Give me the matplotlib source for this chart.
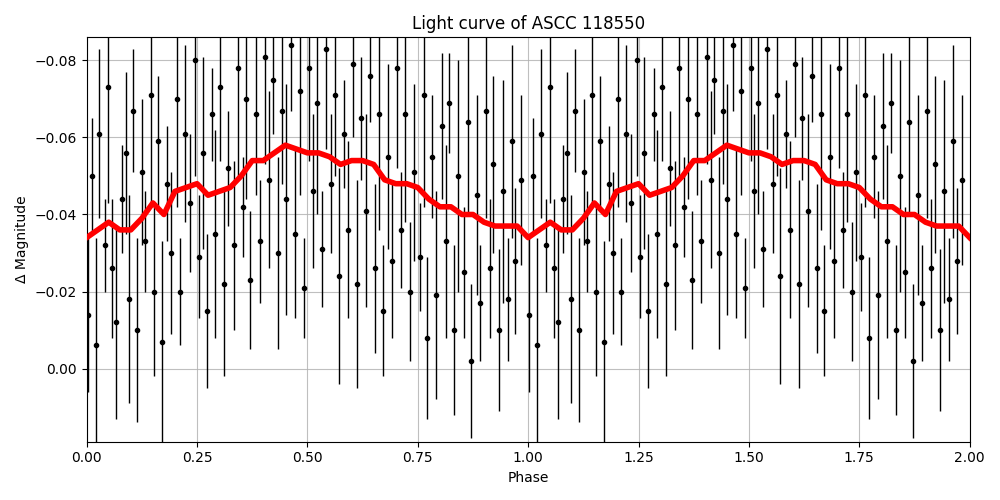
import numpy as np
import matplotlib
matplotlib.use("Agg")
import matplotlib.pyplot as plt

# folded photometry, phase 0-1
phase = [0.003, 0.012, 0.021, 0.029, 0.041, 0.049, 0.058, 0.067, 0.079, 0.088,
         0.097, 0.105, 0.114, 0.126, 0.133, 0.145, 0.153, 0.162, 0.171, 0.183,
         0.192, 0.204, 0.211, 0.222, 0.233, 0.246, 0.254, 0.263, 0.272, 0.284,
         0.291, 0.303, 0.312, 0.321, 0.333, 0.342, 0.354, 0.362, 0.371, 0.383,
         0.392, 0.404, 0.413, 0.421, 0.433, 0.442, 0.451, 0.463, 0.471, 0.483,
         0.492, 0.504, 0.512, 0.521, 0.533, 0.542, 0.554, 0.563, 0.571, 0.583,
         0.592, 0.604, 0.613, 0.621, 0.633, 0.642, 0.654, 0.663, 0.671, 0.683,
         0.692, 0.704, 0.713, 0.721, 0.733, 0.742, 0.754, 0.763, 0.771, 0.783,
         0.792, 0.804, 0.813, 0.821, 0.833, 0.842, 0.854, 0.863, 0.871, 0.883,
         0.892, 0.904, 0.913, 0.921, 0.933, 0.942, 0.954, 0.963, 0.971, 0.983]
mag = [-0.014, -0.050, -0.006, -0.061, -0.032, -0.073, -0.026, -0.012, -0.044, -0.056,
       -0.018, -0.067, -0.010, -0.051, -0.033, -0.071, -0.020, -0.059, -0.007, -0.048,
       -0.030, -0.070, -0.020, -0.061, -0.043, -0.080, -0.029, -0.056, -0.015, -0.066,
       -0.035, -0.073, -0.022, -0.052, -0.032, -0.078, -0.042, -0.070, -0.023, -0.066,
       -0.033, -0.081, -0.049, -0.075, -0.030, -0.067, -0.044, -0.084, -0.035, -0.072,
       -0.021, -0.078, -0.046, -0.069, -0.031, -0.083, -0.048, -0.071, -0.024, -0.061,
       -0.036, -0.079, -0.022, -0.065, -0.041, -0.076, -0.026, -0.066, -0.015, -0.055,
       -0.028, -0.078, -0.036, -0.066, -0.020, -0.051, -0.029, -0.071, -0.008, -0.055,
       -0.019, -0.063, -0.033, -0.069, -0.010, -0.050, -0.025, -0.064, -0.002, -0.045,
       -0.017, -0.067, -0.026, -0.053, -0.010, -0.046, -0.018, -0.059, -0.028, -0.049]
err = [0.020, 0.015, 0.028, 0.022, 0.012, 0.030, 0.018, 0.025, 0.014, 0.021,
       0.027, 0.016, 0.024, 0.019, 0.013, 0.029, 0.022, 0.017, 0.026, 0.015,
       0.021, 0.028, 0.014, 0.023, 0.018, 0.030, 0.016, 0.025, 0.020, 0.012,
       0.027, 0.019, 0.024, 0.015, 0.022, 0.029, 0.013, 0.026, 0.018, 0.021,
       0.016, 0.028, 0.023, 0.014, 0.025, 0.019, 0.030, 0.017, 0.022, 0.027,
       0.013, 0.024, 0.020, 0.029, 0.015, 0.026, 0.018, 0.021, 0.028, 0.014,
       0.023, 0.019, 0.027, 0.016, 0.025, 0.012, 0.022, 0.030, 0.017, 0.024,
       0.020, 0.026, 0.015, 0.028, 0.018, 0.023, 0.014, 0.029, 0.021, 0.016,
       0.027, 0.019, 0.025, 0.013, 0.022, 0.030, 0.017, 0.024, 0.020, 0.026,
       0.015, 0.028, 0.018, 0.023, 0.021, 0.029, 0.016, 0.025, 0.019, 0.022]

# smoothed curve
smooth_phase = [0.000, 0.025, 0.050, 0.075, 0.100, 0.125, 0.150, 0.175, 0.200, 0.225,
                0.250, 0.275, 0.300, 0.325, 0.350, 0.375, 0.400, 0.425, 0.450, 0.475,
                0.500, 0.525, 0.550, 0.575, 0.600, 0.625, 0.650, 0.675, 0.700, 0.725,
                0.750, 0.775, 0.800, 0.825, 0.850, 0.875, 0.900, 0.925, 0.950, 0.975, 1.000]
smooth_mag = [-0.034, -0.036, -0.038, -0.036, -0.036, -0.039, -0.043, -0.040, -0.046, -0.047,
              -0.048, -0.045, -0.046, -0.047, -0.050, -0.054, -0.054, -0.056, -0.058, -0.057,
              -0.056, -0.056, -0.055, -0.053, -0.054, -0.054, -0.053, -0.049, -0.048, -0.048,
              -0.047, -0.044, -0.042, -0.042, -0.040, -0.040, -0.038, -0.037, -0.037, -0.037, -0.034]

ph = np.array(phase)
fig, ax = plt.subplots(figsize=(10, 5), dpi=100)
for shift in (0, 1):
    ax.errorbar(ph + shift, mag, yerr=err, fmt="o", color="black", ms=3, lw=1, zorder=2)
sp = np.array(smooth_phase)
ax.plot(np.concatenate([sp, sp[1:] + 1]), smooth_mag + smooth_mag[1:], color="red", lw=4, zorder=3)
ax.set_xlim(0, 2)
ax.set_ylim(0.019, -0.086)
ax.set_xticks([0, 0.25, 0.5, 0.75, 1.0, 1.25, 1.5, 1.75, 2.0])
ax.grid(True, alpha=0.8)
ax.set_axisbelow(True)
ax.set_xlabel("Phase")
ax.set_ylabel("Δ Magnitude")
ax.set_title("Light curve of ASCC 118550")
fig.tight_layout()
fig.savefig("out.png")
